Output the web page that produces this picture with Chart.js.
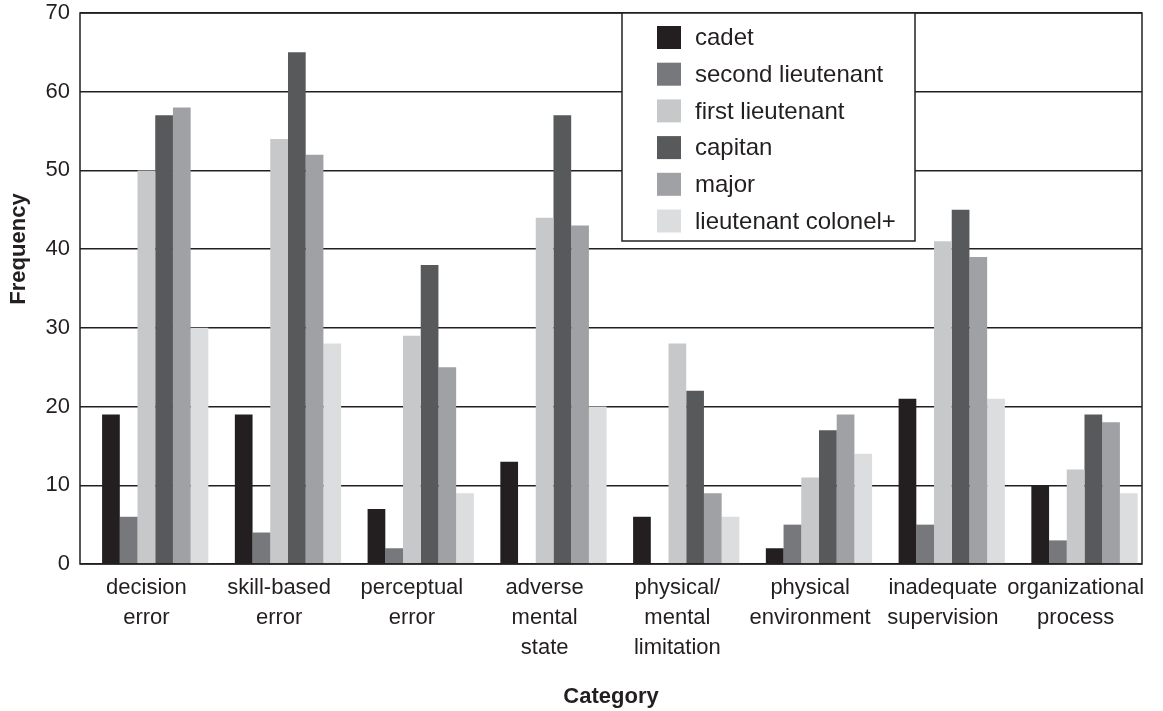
<!DOCTYPE html>
<html>
<head>
<meta charset="utf-8">
<script src="https://cdn.jsdelivr.net/npm/chart.js@4"></script>
<style>
  body { margin: 0; background: #fff; }
  #wrap { width: 1163px; height: 711px; }
</style>
</head>
<body>
<div id="wrap"><canvas id="barChart"></canvas></div>
<script>
// Catégories et séries
const categories = [
    ['decision', 'error'],
    ['skill-based', 'error'],
    ['perceptual', 'error'],
    ['adverse', 'mental', 'state'],
    ['physical/', 'mental', 'limitation'],
    ['physical', 'environment'],
    ['inadequate', 'supervision'],
    ['organizational', 'process']
];
const cadet = [19, 19, 7, 13, 6, 2, 21, 10];
const secondLieutenant = [6, 4, 2, 0, 0, 5, 5, 3];
const firstLieutenant = [50, 54, 29, 44, 28, 11, 41, 12];
const capitan = [57, 65, 38, 57, 22, 17, 45, 19];
const major = [58, 52, 25, 43, 9, 19, 39, 18];
const lieutenantColonel = [30, 28, 9, 20, 6, 14, 21, 9];
const yTicks = [0, 10, 20, 30, 40, 50, 60, 70];

const ink = '#231f20';
const font = 'Liberation Sans, Arial, sans-serif';

// empty leading slot so the group sits right of the category centre, as in the original
const datasets = [
    { label: '', data: [], backgroundColor: 'rgba(0,0,0,0)', spacer: true },
    { label: 'cadet', data: cadet, backgroundColor: '#231f20' },
    { label: 'second lieutenant', data: secondLieutenant, backgroundColor: '#77787b' },
    { label: 'first lieutenant', data: firstLieutenant, backgroundColor: '#c7c8ca' },
    { label: 'capitan', data: capitan, backgroundColor: '#58595b' },
    { label: 'major', data: major, backgroundColor: '#a0a1a4' },
    { label: 'lieutenant colonel+', data: lieutenantColonel, backgroundColor: '#dcdddf' }
];

// cadre, légende encadrée et titres des axes
const framePlugin = {
    id: 'frame',
    afterDatasetsDraw(chart) {
        const { ctx, chartArea: a } = chart;
        ctx.save();
        ctx.strokeStyle = ink;
        ctx.lineWidth = 1.5;
        ctx.strokeRect(a.left, a.top, a.right - a.left, a.bottom - a.top);
        ctx.restore();
    },
    afterDraw(chart) {
        const { ctx, chartArea: a } = chart;
        ctx.save();
        // legend box
        const bx = 622, by = 13, bw = 293, bh = 228;
        ctx.fillStyle = '#fff';
        ctx.fillRect(bx, by, bw, bh);
        ctx.strokeStyle = ink;
        ctx.lineWidth = 1.5;
        ctx.strokeRect(bx, by, bw, bh);
        ctx.font = '24px ' + font;
        ctx.textBaseline = 'middle';
        ctx.textAlign = 'left';
        let row = 0;
        chart.data.datasets.forEach(ds => {
            if (ds.spacer) return;
            const cy = 37.5 + row * 36.7;
            ctx.fillStyle = ds.backgroundColor;
            ctx.fillRect(657, cy - 11.5, 24, 23);
            ctx.fillStyle = ink;
            ctx.fillText(ds.label, 695, cy + 1);
            row++;
        });
        // axis titles
        ctx.font = 'bold 22px ' + font;
        ctx.textAlign = 'center';
        ctx.fillText('Category', (a.left + a.right) / 2, 697);
        ctx.translate(19, 249);
        ctx.rotate(-Math.PI / 2);
        ctx.fillText('Frequency', 0, 0);
        ctx.restore();
    }
};

const barChart = new Chart(document.getElementById('barChart'), {
    type: 'bar',
    data: { labels: categories, datasets: datasets },
    options: {
        responsive: true,
        maintainAspectRatio: false,
        animation: false,
        layout: { padding: { left: 0, right: 21, top: 13, bottom: 0 } },
        datasets: {
            bar: { categoryPercentage: 0.934, barPercentage: 1.0 }
        },
        plugins: {
            legend: { display: false },
            tooltip: { enabled: false }
        },
        scales: {
            x: {
                grid: { display: false, drawTicks: false },
                border: { display: false },
                ticks: {
                    color: ink,
                    font: { family: font, size: 22, lineHeight: 1.36 },
                    padding: 9,
                    maxRotation: 0,
                    minRotation: 0,
                    autoSkip: false
                },
                afterFit(scale) { scale.height = 147; }
            },
            y: {
                min: 0,
                max: 70,
                afterBuildTicks(scale) { scale.ticks = yTicks.map(v => ({ value: v })); },
                grid: { color: ink, lineWidth: 1.5, drawTicks: false },
                border: { display: false },
                ticks: {
                    color: ink,
                    font: { family: font, size: 22 },
                    padding: 10
                },
                afterFit(scale) {
                    scale.width = 80;
                    scale.paddingTop = 0;
                    scale.paddingBottom = 0;
                }
            }
        }
    },
    plugins: [framePlugin]
});
</script>
</body>
</html>
